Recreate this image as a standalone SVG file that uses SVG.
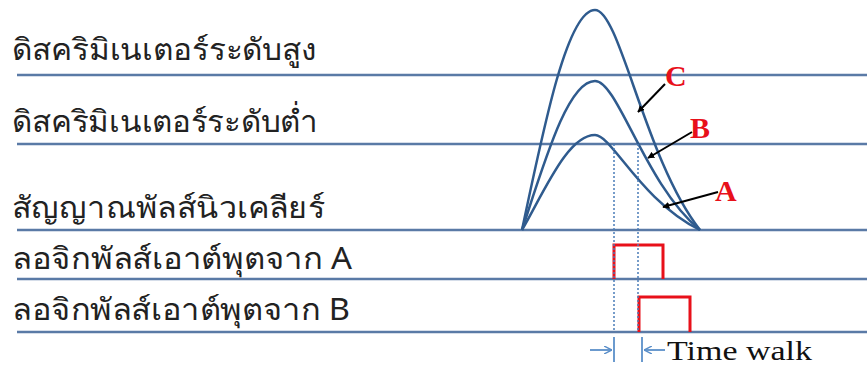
<svg xmlns="http://www.w3.org/2000/svg" width="867" height="365" viewBox="0 0 867 365">
<defs>
<style>
.hl{stroke:#5a7aa6;stroke-width:2.5;fill:none}
.cv{stroke:#2f5b8e;stroke-width:2.5;fill:none}
.dot{stroke:#4a7cb8;stroke-width:1.5;stroke-dasharray:2 2;fill:none}
.pulse{stroke:#e8101a;stroke-width:3;fill:none}
.th{font-family:"Noto Sans","DejaVu Sans",sans-serif;font-size:30px;fill:#222}
.lab{font-family:"Liberation Serif",serif;font-weight:bold;font-size:30px;fill:#e8101a}
.ar{stroke:#000;stroke-width:2;fill:none}
.tw{stroke:#5b8fc9;stroke-width:1.8;fill:none}
</style>
<marker id="ah" viewBox="0 0 10 10" refX="9" refY="5" markerWidth="7" markerHeight="7" markerUnits="userSpaceOnUse" orient="auto">
<path d="M0,0 L10,5 L0,10 z" fill="#000"/>
</marker>
<marker id="oh" viewBox="0 0 10 10" refX="10" refY="5" markerWidth="8" markerHeight="8" markerUnits="userSpaceOnUse" orient="auto">
<path d="M0,0 L10,5 L0,10" fill="none" stroke="#5b8fc9" stroke-width="1.8"/>
</marker>
</defs>
<g id="baselines">
<line class="hl" x1="17" y1="75" x2="867" y2="75"/>
<line class="hl" x1="17" y1="144" x2="867" y2="144"/>
<line class="hl" x1="17" y1="230" x2="867" y2="230"/>
<line class="hl" x1="17" y1="279" x2="867" y2="279"/>
<line class="hl" x1="17" y1="332" x2="867" y2="332"/>
</g>
<g id="labels">
<text class="th" x="12" y="60" textLength="305" lengthAdjust="spacingAndGlyphs">ดิสคริมิเนเตอร์ระดับสูง</text>
<text class="th" x="12" y="132" textLength="306" lengthAdjust="spacingAndGlyphs">ดิสคริมิเนเตอร์ระดับต่ำ</text>
<text class="th" x="12" y="218" textLength="313" lengthAdjust="spacingAndGlyphs">สัญญาณพัลส์นิวเคลียร์</text>
<text class="th" x="12" y="269" textLength="340" lengthAdjust="spacingAndGlyphs">ลอจิกพัลส์เอาต์พุตจาก A</text>
<text class="th" x="12" y="320" textLength="338" lengthAdjust="spacingAndGlyphs">ลอจิกพัลส์เอาต์พุตจาก B</text>
</g>
<g id="pulses">
<path class="cv" d="M522,230 C545,120 568,10 595,10 C620,10 645,160 700,230"/>
<path class="cv" d="M522,230 C545,160 568,81 595,81 C618,81 645,185 700,230"/>
<path class="cv" d="M522,230 C545,190 568,135 595,135 C612,135 640,200 700,230"/>
</g>
<g id="logic">
<path class="pulse" d="M614,279 V245 H663 V279"/>
<path class="pulse" d="M639,332 V297 H690 V332"/>
</g>
<g id="connectors">
<line class="dot" x1="614" y1="144" x2="614" y2="332"/>
<line class="dot" x1="638" y1="144" x2="638" y2="332"/>
<line class="ar" x1="665" y1="84" x2="638" y2="112" marker-end="url(#ah)"/>
<line class="ar" x1="692" y1="132" x2="648" y2="158" marker-end="url(#ah)"/>
<line class="ar" x1="718" y1="192" x2="663" y2="207" marker-end="url(#ah)"/>
</g>
<g id="tags">
<text class="lab" x="665" y="86">C</text>
<text class="lab" x="690" y="138">B</text>
<text class="lab" x="715" y="201">A</text>
</g>
<g id="timewalk">
<line class="tw" x1="614" y1="337" x2="614" y2="362"/>
<line class="tw" x1="642" y1="337" x2="642" y2="362"/>
<line class="tw" x1="590" y1="350" x2="612" y2="350" marker-end="url(#oh)"/>
<line class="tw" x1="665" y1="350" x2="644" y2="350" marker-end="url(#oh)"/>
<text x="667" y="360" font-family="Liberation Serif,serif" font-size="28" fill="#111" textLength="145" lengthAdjust="spacingAndGlyphs">Time walk</text>
</g>
</svg>
